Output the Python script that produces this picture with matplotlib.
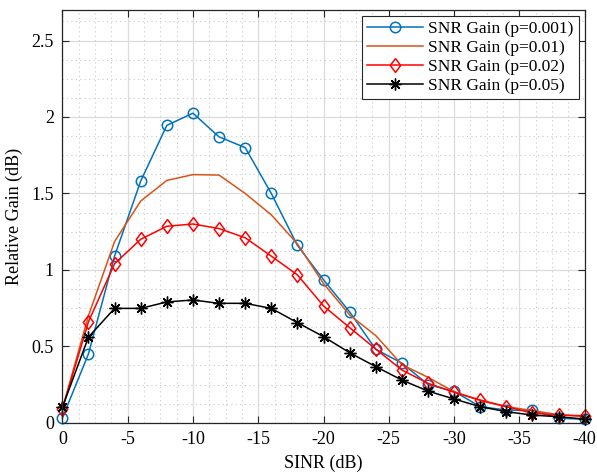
import numpy as np
import matplotlib
matplotlib.use("Agg")
import matplotlib.pyplot as plt
from matplotlib.ticker import MultipleLocator

sinr_db = [0, -2, -4, -6, -8, -10, -12, -14, -16, -18, -20,
           -22, -24, -26, -28, -30, -32, -34, -36, -38, -40]

gain_p0001 = [0.03, 0.45, 1.09, 1.58, 1.945, 2.025, 1.87, 1.80, 1.50, 1.16, 0.935,
              0.725, 0.48, 0.39, 0.25, 0.205, 0.105, 0.083, 0.08, 0.03, 0.022]
gain_p001 = [0.09, 0.70, 1.185, 1.45, 1.585, 1.623, 1.62, 1.50, 1.36, 1.17, 0.91,
             0.705, 0.57, 0.38, 0.297, 0.203, 0.144, 0.105, 0.08, 0.052, 0.04]
gain_p002 = [0.088, 0.66, 1.04, 1.20, 1.285, 1.30, 1.27, 1.21, 1.09, 0.967, 0.764,
             0.622, 0.482, 0.345, 0.258, 0.199, 0.149, 0.105, 0.063, 0.05, 0.046]
gain_p005 = [0.10, 0.56, 0.748, 0.748, 0.79, 0.803, 0.781, 0.781, 0.748, 0.655, 0.563,
             0.458, 0.367, 0.279, 0.207, 0.155, 0.105, 0.072, 0.05, 0.039, 0.024]

labels = ["SNR Gain (p=0.001)", "SNR Gain (p=0.01)",
          "SNR Gain (p=0.02)", "SNR Gain (p=0.05)"]

plt.rcParams['font.family'] = ['Liberation Serif', 'DejaVu Serif']
plt.rcParams['mathtext.fontset'] = 'stix'

# slightly tall diamond marker
diamond = [(0, 1), (0.75, 0), (0, -1), (-0.75, 0), (0, 1)]

fig = plt.figure(figsize=(5.97, 4.73), dpi=100)
ax = fig.add_axes([0.1044, 0.1063, 0.875, 0.8726])

lw = 1.1
ax.plot(sinr_db, gain_p0001, color='#0072BD', lw=lw, marker='o', ms=7.5,
        mfc='none', mew=1.1, label=labels[0], clip_on=False, zorder=3)
ax.plot(sinr_db, gain_p001, color='#D95319', lw=lw, label=labels[1],
        clip_on=False, zorder=3)
ax.plot(sinr_db, gain_p002, color='#FF0000', lw=lw, marker=diamond, ms=10,
        mfc='none', mew=1.1, label=labels[2], clip_on=False, zorder=3)
ax.plot(sinr_db, gain_p005, color='black', lw=lw, marker=(8, 2, 0), ms=8.5,
        mew=1.0, label=labels[3], clip_on=False, zorder=3)

ax.set_xlim(0, -40)
ax.set_ylim(0, 2.7)
ax.xaxis.set_minor_locator(MultipleLocator(1.25))
ax.yaxis.set_minor_locator(MultipleLocator(0.125))
ax.set_xticks(np.arange(0, -41, -5))
ax.set_xticklabels([f"{v:d}" for v in range(0, -41, -5)])
ax.set_yticks([0, 0.5, 1, 1.5, 2, 2.5])
ax.set_yticklabels(["0", "0.5", "1", "1.5", "2", "2.5"])

ax.grid(True, which='major', color='#dcdcdc', lw=0.9, ls='-')
ax.grid(True, which='minor', color='#c8c8c8', lw=0.8, ls=(0, (1, 3)))
ax.set_axisbelow(True)
ax.tick_params(which='both', direction='in', top=True, right=True,
               labelsize=13, color='#262626', pad=6)
ax.tick_params(which='major', length=5)
ax.tick_params(which='minor', length=0)
for s in ax.spines.values():
    s.set_color('#262626')
    s.set_linewidth(0.9)
    s.set_zorder(4)

ax.set_xlabel("SINR (dB)", fontsize=13, labelpad=5)
ax.set_ylabel("Relative Gain (dB)", fontsize=13, labelpad=6)

leg = ax.legend(loc='upper right', fontsize=12.5, handlelength=3.2,
                handletextpad=0.3, borderpad=0.3, labelspacing=0.15,
                fancybox=False, framealpha=1, edgecolor='#262626',
                borderaxespad=0.35)
leg.get_frame().set_linewidth(0.8)
leg.set_zorder(5)

fig.savefig("out.png", dpi=100)
